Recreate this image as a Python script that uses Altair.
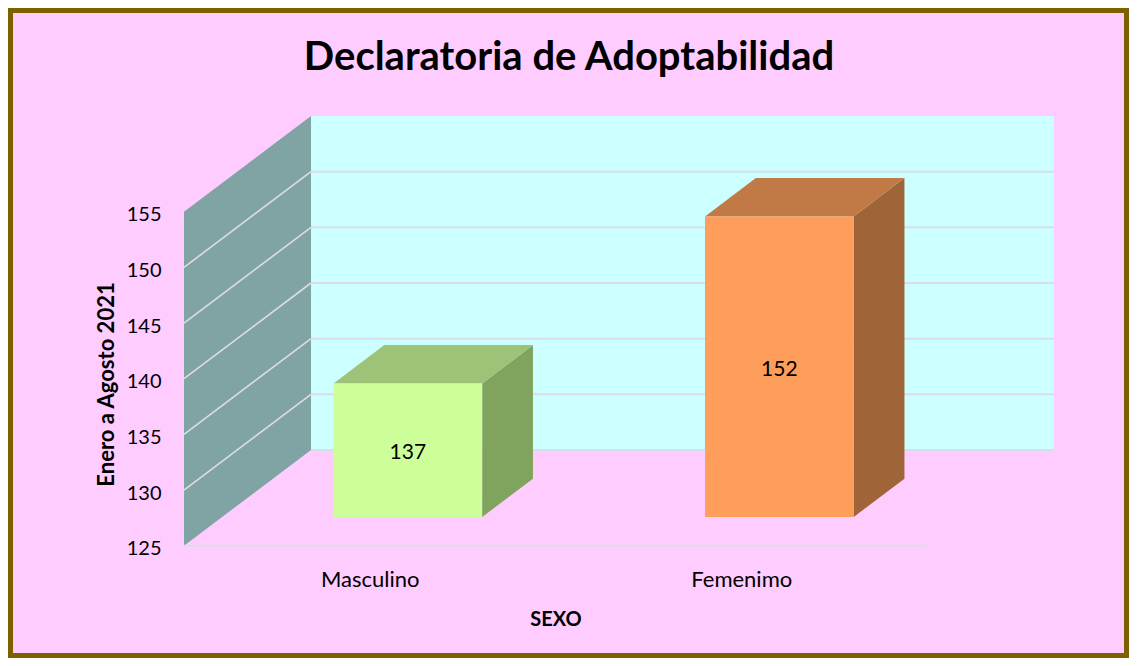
import json
import altair as alt
import pandas as pd

# ---------------- data ----------------
categories = ["Masculino", "Femenimo"]
values = [137, 152]
y_ticks = [125, 130, 135, 140, 145, 150, 155]
front_colors = ["#CCFF99", "#FF9D5B"]
top_colors = ["#9DC278", "#C17A46"]
side_colors = ["#80A35E", "#A06439"]

title_text = "Declaratoria de Adoptabilidad"
y_title = "Enero a Agosto 2021"
x_title = "SEXO"

# ---------------- geometry / style ----------------
K = 11.133          # px per value unit
B = 371.5           # px per category band
DXPX, DYPX = 127.0, 95.7   # depth offset of the back wall in px
DX = DXPX / B
DY = DYPX / K
BAR_W = 0.4
D0, D1 = 0.3, 0.7
YMIN, YMAX = y_ticks[0], y_ticks[-1]
N = len(categories)
W = (N + DX) * B
H = (YMAX - YMIN + DY) * K
PAD_L, PAD_T = 176, 108
TOTAL_W, TOTAL_H = 1121, 650
FONT = "Lato"

xs = alt.Scale(domain=[0, N + DX], nice=False, zero=False)
ys = alt.Scale(domain=[YMIN, YMAX + DY], nice=False, zero=False)

x_axis = alt.Axis(
    values=[i + 0.5 for i in range(N)],
    labelExpr=json.dumps(categories) + "[floor(datum.value)]",
    domain=False, ticks=False, tickSize=0, grid=False,
    labelPadding=24, labelFontSize=22, labelFont=FONT, labelColor="black",
    labelBaseline="top",
    title=x_title, titleFont=FONT, titleFontSize=20, titleFontWeight="bold",
    titleColor="black", titleX=N * B / 2, titleY=80, titleAlign="center",
    titleBaseline="alphabetic",
)
y_axis = alt.Axis(
    values=y_ticks, domain=False, ticks=False, tickSize=0, grid=False,
    labelPadding=23, labelFontSize=20, labelFont=FONT, labelColor="black",
    labelBaseline="middle", labelOffset=3,
    title=y_title, titleFont=FONT, titleFontSize=22, titleFontWeight="bold",
    titleColor="black", titleAngle=-90, titleX=-78, titleY=268,
    titleAlign="center", titleBaseline="middle",
)

X = lambda f="x": alt.X(f"{f}:Q", scale=xs, axis=x_axis)
Y = lambda f="y": alt.Y(f"{f}:Q", scale=ys, axis=y_axis, stack=None)
X2 = lambda f="x2": alt.X2(f"{f}:Q")
Y2 = lambda f="y2": alt.Y2(f"{f}:Q")

# ---------------- frame (walls, floor, gridlines) ----------------
back_wall = pd.DataFrame([{"x": DX, "x2": N + DX, "y": YMIN + DY, "y2": YMAX + DY}])
side_wall = pd.DataFrame([
    {"x": 0, "y": YMIN, "y2": YMAX},
    {"x": DX, "y": YMIN + DY, "y2": YMAX + DY},
])
back_grid = pd.DataFrame([{"x": DX, "x2": N + DX, "y": v + DY, "y2": v + DY} for v in y_ticks[:-1]])
side_grid = pd.DataFrame([{"x": 0, "x2": DX, "y": v, "y2": v + DY} for v in y_ticks[1:-1]])
floor_line = pd.DataFrame([{"x": 0, "x2": N, "y": YMIN, "y2": YMIN}])

# ---------------- bars ----------------
front_rows, top_rows, side_rows, label_rows = [], [], [], []
for i, (cat, v) in enumerate(zip(categories, values)):
    xl = i + 0.5 - BAR_W / 2
    xr = i + 0.5 + BAR_W / 2
    front_rows.append({"id": cat, "c": front_colors[i],
                       "x": xl + D0 * DX, "x2": xr + D0 * DX,
                       "y": YMIN + D0 * DY, "y2": v + D0 * DY})
    for d in (D0, D1):
        top_rows.append({"id": cat, "c": top_colors[i], "y": v + d * DY,
                         "x": xl + d * DX, "x2": xr + d * DX})
        side_rows.append({"id": cat, "c": side_colors[i], "x": xr + d * DX,
                          "y": YMIN + d * DY, "y2": v + d * DY})
    label_rows.append({"x": i + 0.5 + D0 * DX, "y": (YMIN + v) / 2 + D0 * DY, "t": str(v)})

front_df = pd.DataFrame(front_rows)
top_df = pd.DataFrame(top_rows)
side_df = pd.DataFrame(side_rows)
label_df = pd.DataFrame(label_rows)

layers = [
    alt.Chart(back_wall).mark_rect(color="#CCFFFF").encode(x=X(), x2=X2(), y=Y(), y2=Y2()),
    alt.Chart(back_grid).mark_rule(color="#DCDCE6", strokeWidth=2).encode(x=X(), x2=X2(), y=Y(), y2=Y2()),
    alt.Chart(side_wall).mark_area(color="#80A4A4").encode(x=X(), y=Y(), y2=Y2()),
    alt.Chart(side_grid).mark_rule(color="#DDDDDD", strokeWidth=1.6).encode(x=X(), x2=X2(), y=Y(), y2=Y2()),
    alt.Chart(floor_line).mark_rule(color="#DCDCE6", strokeWidth=2).encode(x=X(), x2=X2(), y=Y(), y2=Y2()),
    alt.Chart(side_df).mark_area().encode(
        x=X(), y=Y(), y2=Y2(), detail="id:N", color=alt.Color("c:N", scale=None)),
    alt.Chart(top_df).mark_area(orient="horizontal").encode(
        y=Y(), x=X(), x2=X2(), detail="id:N", color=alt.Color("c:N", scale=None)),
    alt.Chart(front_df).mark_rect().encode(
        x=X(), x2=X2(), y=Y(), y2=Y2(), color=alt.Color("c:N", scale=None)),
    alt.Chart(label_df).mark_text(font=FONT, fontSize=21, color="black", baseline="middle", dy=3).encode(
        x=X(), y=Y(), text="t:N"),
    alt.Chart(pd.DataFrame([{"k": 1}])).mark_rect(
        filled=False, stroke="#7F6000", strokeWidth=5).encode(
        x=alt.value(2.5 - PAD_L), x2=alt.value(TOTAL_W - 2.5 - PAD_L),
        y=alt.value(2.5 - PAD_T), y2=alt.value(TOTAL_H - 2.5 - PAD_T)),
]

chart = alt.layer(*layers).properties(
    width=W, height=H,
    padding={"left": PAD_L, "top": PAD_T, "right": TOTAL_W - PAD_L - W, "bottom": TOTAL_H - PAD_T - H},
    autosize=alt.AutoSizeParams(type="none"),
    title=alt.TitleParams(title_text, font=FONT, fontSize=40, fontWeight="bold", color="black",
                          anchor="middle", frame="group", dx=-50, offset=0, dy=102,
                          baseline="alphabetic"),
).configure(background="#FFCCFF").configure_view(stroke=None)

chart.save("out.html", embed_options={"renderer": "svg", "actions": False})
